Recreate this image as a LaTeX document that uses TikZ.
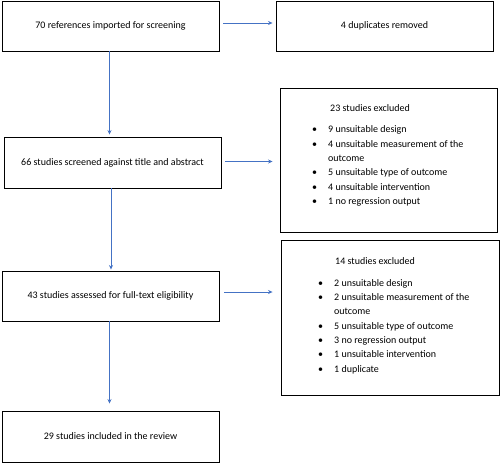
\documentclass[tikz,border=0pt]{standalone}
\usepackage{fontspec}
\setmainfont{Carlito}
\usetikzlibrary{arrows.meta,calc}
\definecolor{arrowblue}{HTML}{4472C4}
\tikzset{
  box/.style={draw=black, line width=0.9pt, minimum width=217pt, inner sep=0pt, font=\fontsize{10}{12}\selectfont},
  flow/.style={draw=arrowblue, line width=0.8pt, -{Stealth[length=4.5pt,width=4pt]}},
  txt/.style={anchor=base west, inner sep=0pt, font=\fontsize{10}{12}\selectfont}
}
\newcommand\bul{\makebox[16pt][l]{•}}
\begin{document}
\begin{tikzpicture}[x=1pt,y=-1pt]
\useasboundingbox (0,0) rectangle (500,463);
% main column
\node[box, minimum height=50pt] (b1) at (110.5,26) {70 references imported for screening};
\node[box, minimum height=50pt] (b2) at (384.5,26) {4 duplicates removed};
\node[box, minimum height=51pt] (m2) at (112.5,162.5) {66 studies screened against title and abstract};
\node[box, minimum height=50pt] (m3) at (110.5,296) {43 studies assessed for full-text eligibility};
\node[box, minimum height=51pt] (m4) at (110.5,436.5) {29 studies included in the review};
% exclusion boxes
\node[box, minimum height=144pt] (e1) at (388.5,160) {};
\node[box, minimum width=218pt, minimum height=155pt] (e2) at (390,317.5) {};
% texts of exclusion box 1
\node[txt] (e1t) at (330,111.5) {23 studies excluded};
\node[txt] (e1a) at (312,132.8) {\bul 9 unsuitable design};
\node[txt] (e1b) at (312,147.1) {\bul 4 unsuitable measurement of the};
\node[txt] (e1c) at (328,161.4) {outcome};
\node[txt] (e1d) at (312,175.7) {\bul 5 unsuitable type of outcome};
\node[txt] (e1e) at (312,190.0) {\bul 4 unsuitable intervention};
\node[txt] (e1f) at (312,204.3) {\bul 1 no regression output};
% texts of exclusion box 2
\node[txt] (e2t) at (335,264.5) {14 studies excluded};
\node[txt] (e2a) at (318,286.2) {\bul 2 unsuitable design};
\node[txt] (e2b) at (318,300.5) {\bul 2 unsuitable measurement of the};
\node[txt] (e2c) at (334,314.8) {outcome};
\node[txt] (e2d) at (318,329.1) {\bul 5 unsuitable type of outcome};
\node[txt] (e2e) at (318,343.4) {\bul 3 no regression output};
\node[txt] (e2f) at (318,357.7) {\bul 1 unsuitable intervention};
\node[txt] (e2g) at (318,372.0) {\bul 1 duplicate};
% connectors
\draw[flow] ([yshift=3pt,xshift=4pt]b1.east) -- ([yshift=3pt,xshift=-3pt]b2.west);
\draw[flow] ([xshift=4pt,yshift=1pt]m2.east) -- ([xshift=-7pt,yshift=1pt]m2.east -| e1.west);
\draw[flow] ([xshift=5pt,yshift=4pt]m3.east) -- ([xshift=-8pt,yshift=4pt]m3.east -| e2.west);
\draw[flow] ([xshift=-1pt]b1.south) -- ([xshift=-1pt,yshift=2pt]b1.south |- m2.north);
\draw[flow] ([xshift=-1.5pt]m2.south) -- ([xshift=-1.5pt,yshift=1pt]m2.south |- m3.north);
\draw[flow] ([xshift=-1pt]m3.south) -- ([xshift=-1pt,yshift=7pt]m3.south |- m4.north);
\end{tikzpicture}
\end{document}
